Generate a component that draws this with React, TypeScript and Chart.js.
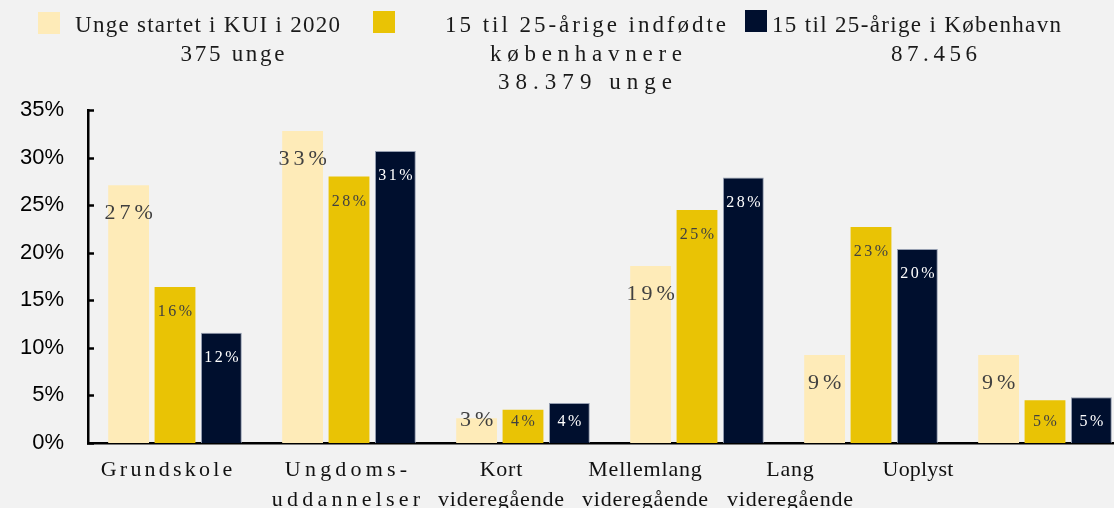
import React, { useEffect, useRef } from "react";
import { Chart, registerables } from "chart.js";

Chart.register(...registerables);

// ---------- data ----------
const categories: string[][] = [
  ["Grundskole"],
  ["Ungdoms-", "uddannelser"],
  ["Kort", "videregående"],
  ["Mellemlang", "videregående"],
  ["Lang", "videregående"],
  ["Uoplyst"],
];
const seriesNames = [
  "Unge startet i KUI i 2020",
  "15 til 25-årige indfødte københavnere",
  "15 til 25-årige i København",
];
const legendLines: string[][] = [
  ["Unge startet i KUI i 2020", "375 unge"],
  ["15 til 25-årige indfødte", "københavnere", "38.379 unge"],
  ["15 til 25-årige i København", "87.456"],
];
const kuiValues = [27.1, 32.8, 2.6, 18.6, 9.25, 9.25];
const nativeValues = [16.4, 28.0, 3.5, 24.5, 22.7, 4.5];
const cphValues = [11.6, 30.7, 4.2, 27.9, 20.4, 4.8];
const yMax = 35;
const yStep = 5;

// ---------- style ----------
const BG = "#f2f2f2";
const COLORS = ["#FEEBB8", "#E9C305", "#000F2E"];
const SERIF = "'Liberation Serif', 'Times New Roman', serif";
const SANS = "'Liberation Sans', Arial, sans-serif";

function drawSpaced(ctx: CanvasRenderingContext2D, text: string, cx: number, y: number, ls: number) {
  (ctx as any).letterSpacing = ls + "px";
  const w = ctx.measureText(text).width;
  const real = w - ls;
  ctx.textAlign = "left";
  ctx.fillText(text, cx - real / 2, y);
  (ctx as any).letterSpacing = "0px";
}

// draw text centred at cx, spread by letter spacing to a target width
function drawFitted(ctx: CanvasRenderingContext2D, text: string, cx: number, y: number, width: number) {
  (ctx as any).letterSpacing = "0px";
  const w0 = ctx.measureText(text).width;
  const n = Array.from(text).length;
  const ls = n > 1 ? Math.max(0, (width - w0) / (n - 1)) : 0;
  drawSpaced(ctx, text, cx, y, ls);
}

const customPlugin = {
  id: "customDraw",
  afterDraw(chart: any) {
    const ctx: CanvasRenderingContext2D = chart.ctx;
    const area = chart.chartArea;
    const xScale = chart.scales.x;
    const yScale = chart.scales.y;
    ctx.save();

    // legend
    const boxes = [
      { x: 38, y: 12 },
      { x: 373, y: 11 },
      { x: 745, y: 10 },
    ];
    const lineLayout = [
      [
        [207.5, 265],
        [232.5, 104],
      ],
      [
        [585.5, 281],
        [586, 192],
        [585, 174],
      ],
      [
        [916.5, 289],
        [934, 86],
      ],
    ];
    ctx.font = `23px ${SERIF}`;
    ctx.textBaseline = "alphabetic";
    legendLines.forEach((lines, i) => {
      ctx.fillStyle = COLORS[i];
      ctx.fillRect(boxes[i].x, boxes[i].y, 22, 22);
      ctx.fillStyle = "#1a1a1a";
      lines.forEach((ln, j) => {
        const [cx, w] = lineLayout[i][j];
        drawFitted(ctx, ln, cx, 32 + j * 28.5, w);
      });
    });

    // inward tick marks on y axis
    ctx.strokeStyle = "#000";
    ctx.lineWidth = 2.5;
    for (let v = 0; v <= yMax; v += yStep) {
      const py = Math.round(yScale.getPixelForValue(v)) + 0.5;
      ctx.beginPath();
      ctx.moveTo(area.left - 1, py);
      ctx.lineTo(area.left + 6, py);
      ctx.stroke();
    }

    // x labels
    const xOffsets = [-8.5, -3, -22, -52, -81, -127];
    const xLs = [3.2, 4.2, 0.8, 0.8, 0.8, 0.2];
    ctx.font = `22px ${SERIF}`;
    ctx.fillStyle = "#111";
    categories.forEach((lines, i) => {
      const cx = xScale.getPixelForValue(i) + xOffsets[i];
      lines.forEach((ln, j) => {
        drawSpaced(ctx, ln, cx, area.bottom + 33 + j * 30, xLs[i]);
      });
    });

    // data labels
    chart.data.datasets.forEach((ds: any, di: number) => {
      const meta = chart.getDatasetMeta(di);
      meta.data.forEach((bar: any, i: number) => {
        const v = ds.data[i];
        const text = Math.round(v) + "%";
        const big = di === 0;
        ctx.font = big ? `22px ${SERIF}` : `16px ${SERIF}`;
        ctx.fillStyle = di === 2 ? "#ffffff" : "#404040";
        ctx.textBaseline = "middle";
        const cy = big ? Math.min(bar.y + 28, bar.base - 23) : Math.min(bar.y + 25, bar.base - 21);
        drawSpaced(ctx, text, bar.x, cy, big ? 4 : 2.5);
      });
    });

    ctx.restore();
  },
};

export default function App() {
  const canvasRef = useRef<HTMLCanvasElement | null>(null);

  useEffect(() => {
    const canvas = canvasRef.current;
    if (!canvas) return;
    const chart = new Chart(canvas, {
      type: "bar",
      data: {
        labels: categories.map((c) => c.join(" ")),
        datasets: [
          { label: seriesNames[0], data: kuiValues, backgroundColor: COLORS[0], borderWidth: 0 },
          { label: seriesNames[1], data: nativeValues, backgroundColor: COLORS[1], borderWidth: 0 },
          {
            label: seriesNames[2],
            data: cphValues,
            backgroundColor: COLORS[2],
            borderColor: "rgba(140,150,170,0.9)",
            borderWidth: 1,
          },
        ],
      },
      options: {
        responsive: false,
        animation: false,
        devicePixelRatio: 1,
        layout: { padding: { top: 110, left: 0, right: 0, bottom: 0 } },
        datasets: { bar: { categoryPercentage: 0.8, barPercentage: 0.88 } },
        plugins: {
          legend: { display: false },
          tooltip: { enabled: false },
        },
        scales: {
          x: {
            grid: { display: false, drawTicks: false },
            border: { display: true, color: "#000", width: 2.5 },
            ticks: { display: false },
            afterFit: (s: any) => {
              s.height = 65;
            },
          },
          y: {
            min: 0,
            max: yMax,
            grid: { display: false, drawTicks: false },
            border: { display: true, color: "#000", width: 2.5 },
            ticks: {
              stepSize: yStep,
              padding: 24,
              color: "#000",
              font: { family: SANS, size: 22 },
              callback: (v: any) => v + "%",
            },
            afterFit: (s: any) => {
              s.width = 88;
            },
          },
        },
      },
      plugins: [customPlugin],
    });
    return () => chart.destroy();
  }, []);

  return (
    <div
      style={{
        position: "absolute",
        left: 0,
        top: 0,
        width: 1114,
        height: 508,
        overflow: "hidden",
        background: BG,
      }}
    >
      <canvas ref={canvasRef} width={1132} height={508} style={{ display: "block", width: 1132, height: 508 }} />
    </div>
  );
}
